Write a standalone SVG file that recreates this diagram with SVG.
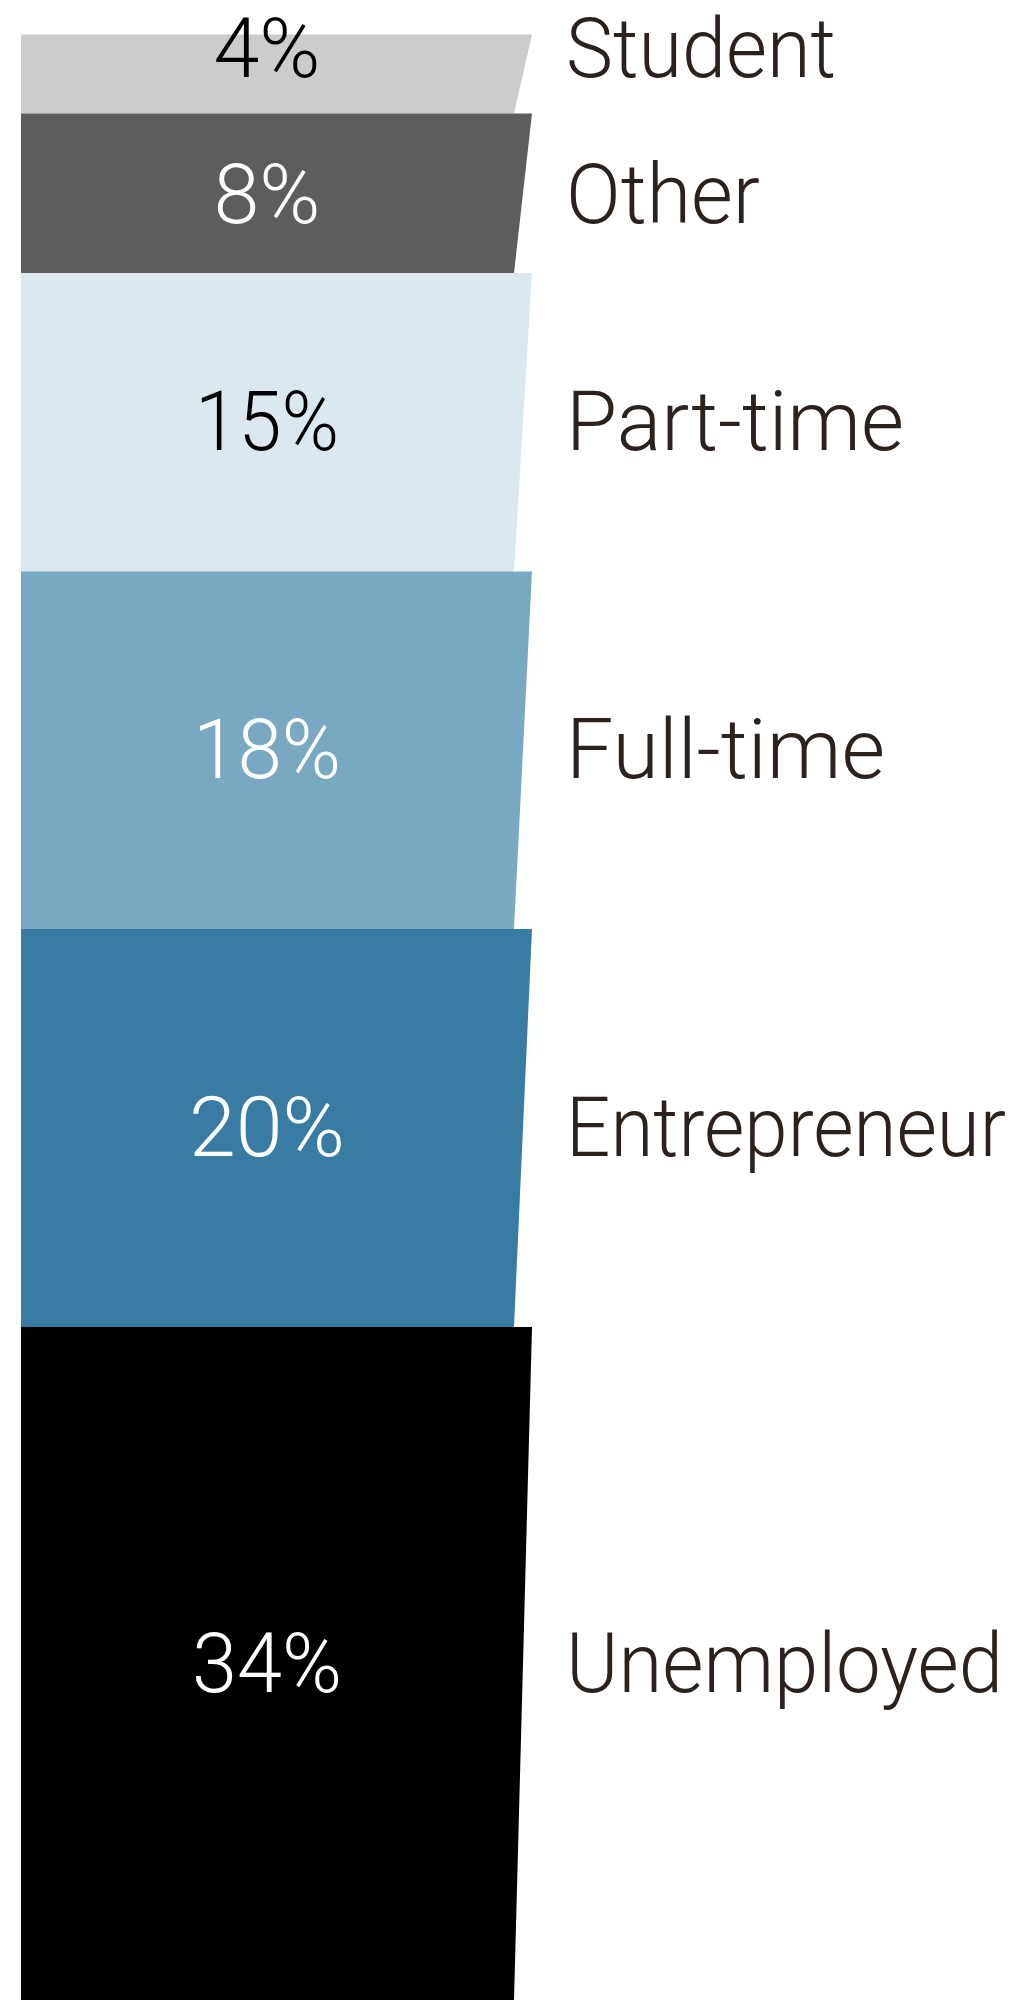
<svg xmlns="http://www.w3.org/2000/svg" width="1026" height="2000" viewBox="0 0 1026 2000">
<style>
.pct{font-family:Roboto,"Liberation Sans",sans-serif;font-weight:300;font-size:84px;text-anchor:middle}
.lbl{font-family:Roboto,"Liberation Sans",sans-serif;font-weight:300;font-size:84px;fill:#2b221d}
.dark{fill:#000}
.light{fill:#fff}
</style>
<rect width="1026" height="2000" fill="#fff"/>
<g id="student">
<polygon points="21,34.5 532,34.5 514,113.6 21,113.6" fill="#cccccc"/>
<text class="pct dark" x="267" y="77" textLength="107" lengthAdjust="spacingAndGlyphs">4%</text>
<text class="lbl" x="566" y="77" textLength="270" lengthAdjust="spacingAndGlyphs">Student</text>
</g>
<g id="other">
<polygon points="21,113.6 532,113.6 514,273 21,273" fill="#5d5d5d"/>
<text class="pct light" x="267" y="223" textLength="107" lengthAdjust="spacingAndGlyphs">8%</text>
<text class="lbl" x="566" y="223" textLength="194" lengthAdjust="spacingAndGlyphs">Other</text>
</g>
<g id="part-time">
<polygon points="21,273 532,273 514,571.6 21,571.6" fill="#dce8f0"/>
<text class="pct dark" x="267" y="450" textLength="144" lengthAdjust="spacingAndGlyphs">15%</text>
<text class="lbl" x="566" y="450" textLength="338" lengthAdjust="spacingAndGlyphs">Part-time</text>
</g>
<g id="full-time">
<polygon points="21,571.6 532,571.6 514,929 21,929" fill="#79a8c2"/>
<text class="pct light" x="267" y="778" textLength="148" lengthAdjust="spacingAndGlyphs">18%</text>
<text class="lbl" x="566" y="778" textLength="319" lengthAdjust="spacingAndGlyphs">Full-time</text>
</g>
<g id="entrepreneur">
<polygon points="21,929 532,929 514,1327 21,1327" fill="#387ca4"/>
<text class="pct light" x="267" y="1156" textLength="156" lengthAdjust="spacingAndGlyphs">20%</text>
<text class="lbl" x="566" y="1156" style="font-size:78px" transform="translate(566,1156) scale(1.0,1.077) translate(-566,-1156)" textLength="440" lengthAdjust="spacingAndGlyphs">Entrepreneur</text>
</g>
<g id="unemployed">
<polygon points="21,1327 532,1327 514,2000 21,2000" fill="#000000"/>
<text class="pct light" x="267" y="1692" textLength="150" lengthAdjust="spacingAndGlyphs">34%</text>
<text class="lbl" x="566" y="1692" textLength="437" lengthAdjust="spacingAndGlyphs">Unemployed</text>
</g>
<g id="connectors"/>
</svg>
